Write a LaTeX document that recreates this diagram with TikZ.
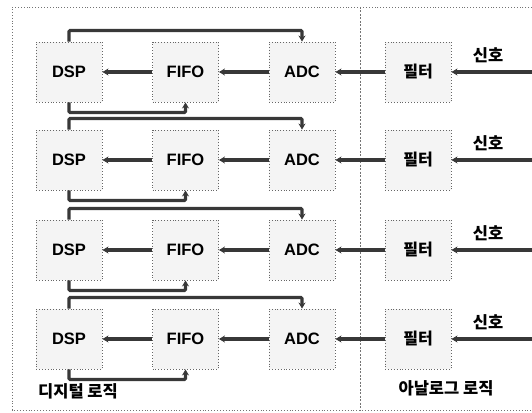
\documentclass[tikz,border=0pt]{standalone}
\usepackage{fontspec}
\setmainfont{Liberation Sans}
\newfontfamily\kr{Noto Sans CJK KR}
\usetikzlibrary{arrows.meta}
\tikzset{
  blk/.style={draw=black!60, dotted, line width=0.9pt, fill=gray!9, minimum width=66pt, minimum height=60pt, inner sep=0pt, font=\fontsize{16.5}{16.5}\selectfont\bfseries},
  wire/.style={draw=black!78, line width=3.2pt, -{Stealth[length=6pt,width=7pt]}},
  frame/.style={draw=black!55, dotted, line width=0.9pt},
  lbl/.style={font=\kr\bfseries\fontsize{16.5}{16.5}\selectfont, inner sep=0pt}
}
\begin{document}
\begin{tikzpicture}[x=1pt,y=-1pt]
\useasboundingbox (0,0) rectangle (532,412);
\draw[frame] (532,7) -- (12,7) -- (12,410) -- (532,410);
\draw[frame, dash pattern=on 2pt off 1.5pt] (360,7) -- (360,410);
\foreach \i/\y in {1/72,2/160,3/250,4/339}{
  \node[blk] (dsp\i) at (69,\y) {DSP};
  \node[blk] (fifo\i) at (185.5,\y) {FIFO};
  \node[blk] (adc\i) at (302,\y) {ADC};
  \node[blk, font=\kr\bfseries\fontsize{16}{16}\selectfont] (flt\i) at (418,\y) {필터};
  \coordinate (sig\i) at (533,\y);
  \node[lbl] (sl\i) at (488,\y-17) {신호};
  \draw[wire] (sig\i) -- (flt\i.east);
  \draw[wire] (flt\i.west) -- (adc\i.east);
  \draw[wire] (adc\i.west) -- (fifo\i.east);
  \draw[wire] (fifo\i.west) -- (dsp\i.east);
  \draw[wire, rounded corners=1pt] (dsp\i.north) -- ++(0,-11) -| (adc\i.north);
  \draw[wire, rounded corners=1pt] (dsp\i.south) -- ++(0,10) -| (fifo\i.south);
}
\node[lbl] (dl) at (78,391) {디지털 로직};
\node[lbl] (al) at (446,388) {아날로그 로직};
\end{tikzpicture}
\end{document}
